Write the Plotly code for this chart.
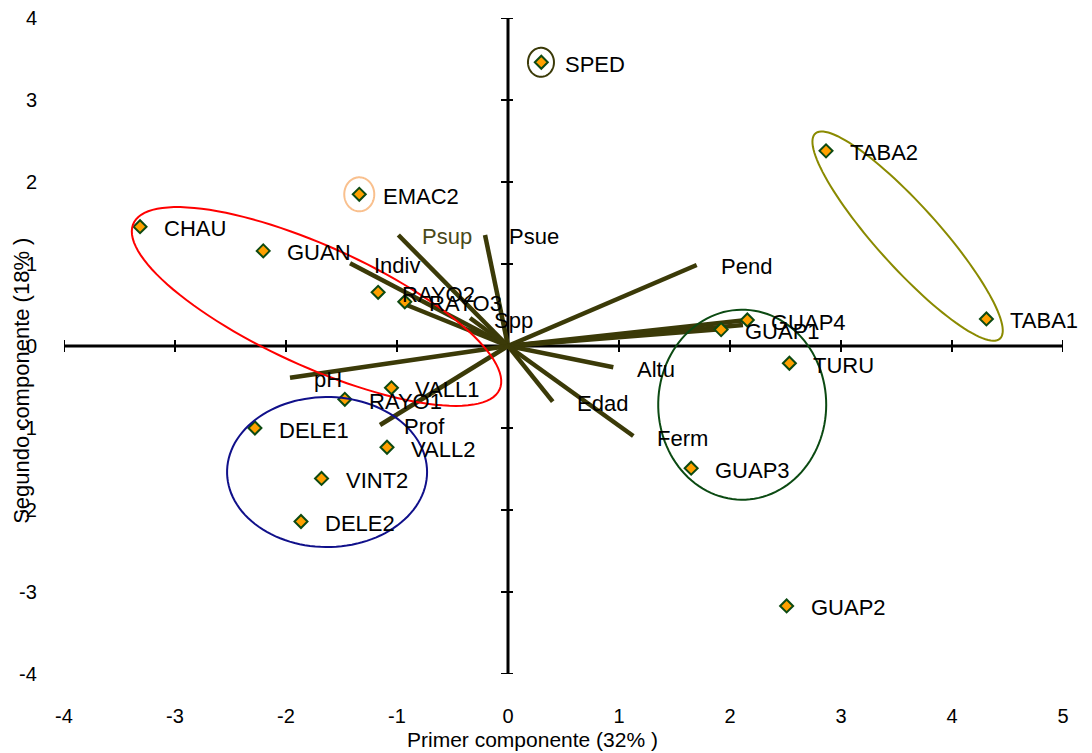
import numpy as np
import plotly.graph_objects as go

# ---------------- data ----------------
site_names = ["SPED", "TABA2", "EMAC2", "CHAU", "GUAN", "RAYO2", "RAYO3", "TABA1",
              "GUAP4", "GUAP1", "TURU", "VALL1", "RAYO1", "DELE1", "VALL2", "GUAP3",
              "VINT2", "DELE2", "GUAP2"]
site_x = [0.30, 2.865, -1.34, -3.315, -2.205, -1.17, -0.93, 4.31,
          2.156, 1.92, 2.535, -1.05, -1.47, -2.28, -1.09, 1.65,
          -1.68, -1.865, 2.51]
site_y = [3.46, 2.38, 1.85, 1.455, 1.16, 0.655, 0.54, 0.33,
          0.317, 0.20, -0.21, -0.51, -0.65, -1.00, -1.235, -1.49,
          -1.615, -2.14, -3.17]

vec_names = ["Psup", "Psue", "Indiv", "", "Spp", "Pend", "", "", "",
             "Altu", "Edad", "Ferm", "pH", "Prof"]
vec_x = [-0.988, -0.207, -1.423, -0.913, -0.342, 1.70, 2.153, 2.117, 1.937,
         0.949, 0.403, 1.129, -1.964, -1.153]
vec_y = [1.354, 1.354, 1.009, 0.50, 0.341, 0.988, 0.317, 0.256, 0.207,
         -0.26, -0.679, -1.098, -0.387, -0.963]

x_ticks = [-4, -3, -2, -1, 0, 1, 2, 3, 4, 5]
x_tick_labels = ["-4", "-3", "-2", "-1", "0", "1", "2", "3", "4", "5"]
y_ticks = [-4, -3, -2, -1, 0, 1, 2, 3, 4]
y_tick_labels = ["-4", "-3", "-2", "-1", "0", "1", "2", "3", "4"]

x_title = "Primer componente (32% )"
y_title = "Segundo componente (18% )"

# ---------------- styling ----------------
FONT = "Liberation Sans, Arial, sans-serif"
PXX = 111.0   # pixels per x unit (approx)
PXY = 82.0    # pixels per y unit (approx)
VEC_COLOR = "#3b3a08"

fig = go.Figure()

# vectors
vx, vy = [], []
for x, y in zip(vec_x, vec_y):
    vx += [0, x, None]
    vy += [0, y, None]
fig.add_trace(go.Scatter(x=vx, y=vy, mode="lines",
                         line=dict(color=VEC_COLOR, width=4.5),
                         hoverinfo="skip", showlegend=False))

# site points
fig.add_trace(go.Scatter(x=site_x, y=site_y, mode="markers",
                         marker=dict(symbol="diamond", size=10, color="#FFA000",
                                     line=dict(color="#0d4a12", width=2)),
                         text=site_names, showlegend=False))

# axes drawn through origin
shapes = []
shapes.append(dict(type="line", xref="x", yref="y", x0=min(x_ticks), x1=max(x_ticks),
                   y0=0, y1=0, line=dict(color="black", width=3), layer="below"))
shapes.append(dict(type="line", xref="x", yref="y", x0=0, x1=0,
                   y0=min(y_ticks), y1=max(y_ticks), line=dict(color="black", width=3), layer="below"))
for t in x_ticks:
    shapes.append(dict(type="line", xref="x", yref="y", x0=t, x1=t,
                       y0=-6 / PXY, y1=6 / PXY, line=dict(color="black", width=2), layer="below"))
for t in y_ticks:
    shapes.append(dict(type="line", xref="x", yref="y", x0=-7 / PXX, x1=5 / PXX,
                       y0=t, y1=t, line=dict(color="black", width=2), layer="below"))


def ellipse_path(cx, cy, a_px, b_px, ang_deg, n=120):
    t = np.linspace(0, 2 * np.pi, n)
    th = np.radians(ang_deg)
    dx = a_px * np.cos(t) * np.cos(th) - b_px * np.sin(t) * np.sin(th)
    dy = a_px * np.cos(t) * np.sin(th) + b_px * np.sin(t) * np.cos(th)
    xs = cx + dx / PXX
    ys = cy - dy / PXY
    p = "M %.4f,%.4f " % (xs[0], ys[0])
    p += " ".join("L %.4f,%.4f" % (a, b) for a, b in zip(xs[1:], ys[1:]))
    return p + " Z"


ellipses = [
    # (cx, cy, a_px, b_px, angle, color)
    (-1.725, 0.482, 201, 60, 24.4, "#ff0000"),
    (-1.63, -1.537, 100, 75, 0, "#10108a"),
    (2.11, -0.716, 84, 95, 0, "#0b4a12"),
    (3.60, 1.34, 138, 31, 48.0, "#8a8a00"),
    (0.297, 3.46, 13, 14.5, 0, "#3b3a08"),
    (-1.34, 1.85, 15, 17, 0, "#f9c08e"),
]
for cx, cy, a, b, ang, col in ellipses:
    shapes.append(dict(type="path", xref="x", yref="y", path=ellipse_path(cx, cy, a, b, ang),
                       line=dict(color=col, width=2), fillcolor="rgba(0,0,0,0)", layer="above"))

annotations = []
for n, x, y in zip(site_names, site_x, site_y):
    annotations.append(dict(x=x, y=y, xref="x", yref="y", text=n, showarrow=False,
                            xanchor="left", yanchor="middle", xshift=22, yshift=-2,
                            font=dict(family=FONT, size=22, color="black")))
for n, x, y in zip(vec_names, vec_x, vec_y):
    if not n:
        continue
    col = "#4a4a1a" if n == "Psup" else "black"
    annotations.append(dict(x=x, y=y, xref="x", yref="y", text=n, showarrow=False,
                            xanchor="left", yanchor="middle", xshift=22, yshift=-2,
                            font=dict(family=FONT, size=22, color=col)))

# y tick labels (drawn as annotations so the top label is not dropped)
for t, lab in zip(y_ticks, y_tick_labels):
    annotations.append(dict(x=0, y=t, xref="paper", yref="y", text=lab, showarrow=False,
                            xanchor="right", yanchor="middle", xshift=-25,
                            font=dict(family=FONT, size=20, color="black")))

annotations.append(dict(x=0.4685, y=-0.100, xref="paper", yref="paper", text=x_title,
                        showarrow=False, xanchor="center", yanchor="middle",
                        font=dict(family=FONT, size=21, color="black")))
annotations.append(dict(x=-0.042, y=0.447, xref="paper", yref="paper", text=y_title,
                        showarrow=False, xanchor="center", yanchor="middle", textangle=-90,
                        font=dict(family=FONT, size=22, color="black")))

fig.update_layout(
    width=1092, height=753,
    margin=dict(l=56, r=37, t=10, b=87),
    paper_bgcolor="white", plot_bgcolor="white",
    shapes=shapes, annotations=annotations,
    showlegend=False,
    font=dict(family=FONT, size=20, color="black"),
    xaxis=dict(range=[min(x_ticks), max(x_ticks)], tickvals=x_ticks, ticktext=x_tick_labels,
               showgrid=False, zeroline=False, showline=False, ticks="", ticklabelstandoff=28,
               tickfont=dict(family=FONT, size=20, color="black")),
    yaxis=dict(range=[min(y_ticks), max(y_ticks)], tickvals=y_ticks, showticklabels=False,
               showgrid=False, zeroline=False, showline=False, ticks=""),
)

fig.write_html("out.html")
